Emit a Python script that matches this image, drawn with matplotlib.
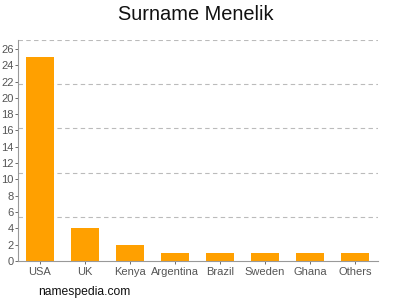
import numpy as np
import matplotlib
matplotlib.use("Agg")
import matplotlib.pyplot as plt

plt.rcParams['font.family'] = ['Liberation Sans', 'DejaVu Sans']

countries = ["USA", "UK", "Kenya", "Argentina", "Brazil", "Sweden", "Ghana", "Others"]
counts = [25, 4, 2, 1, 1, 1, 1, 1]
yticks = list(range(0, 27, 2))
ymax = 27.1

fig = plt.figure(figsize=(4, 3), dpi=100)
ax = fig.add_axes([0.045, 0.13, 0.9, 0.737])

x = np.arange(len(countries))
ax.bar(x, counts, width=0.62, color="#ffa000", zorder=2)

ax.set_xlim(-0.48, len(countries) - 0.49)
ax.set_ylim(0, ymax)

# dashed grid lines at even fractions of the axis height
for k in range(1, 6):
    ax.axhline(ymax * k / 5, color="#bbbbbb", linestyle=(0, (4, 3)), linewidth=0.8, zorder=1)

ax.set_xticks(x)
ax.set_xticklabels(countries)
ax.set_yticks(yticks)
ax.tick_params(axis="both", colors="#555555", labelsize=8, length=2, width=0.6)
ax.tick_params(axis="x", length=2, pad=2)
ax.tick_params(axis="y", pad=1)

for side in ["top", "right"]:
    ax.spines[side].set_visible(False)
for side in ["left", "bottom"]:
    ax.spines[side].set_color("#999999")
    ax.spines[side].set_linewidth(0.8)

fig.text(0.49, 0.95, "Surname Menelik", ha="center", va="center", fontsize=14.4, color="#111111")
fig.text(0.095, 0.027, "namespedia.com", ha="left", va="center", fontsize=8.7, color="#111111")

fig.savefig("out.png", dpi=100)
